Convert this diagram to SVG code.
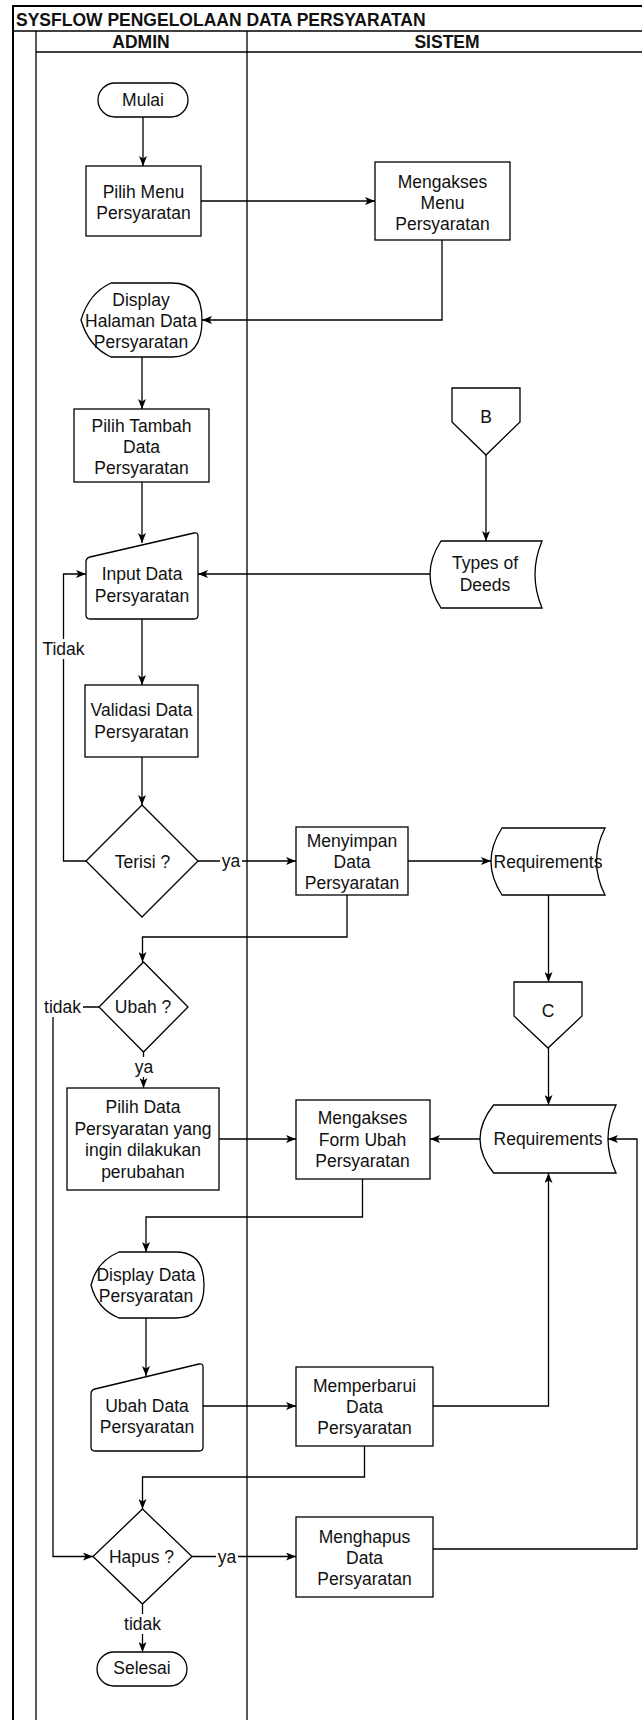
<svg xmlns="http://www.w3.org/2000/svg" width="642" height="1720" viewBox="0 0 642 1720">
  <defs>
    <marker id="arrow" viewBox="0 0 10 8" refX="10" refY="4" markerWidth="10" markerHeight="8" markerUnits="userSpaceOnUse" orient="auto">
      <path d="M0,0 L10,4 L0,8 L2.5,4 Z" fill="#000"/>
    </marker>
    <style>
      .shape{fill:#fff;stroke:#000;stroke-width:1.3}
      .pool{fill:none;stroke:#000;stroke-width:1.3}
      .pool-edge{fill:none;stroke:#000;stroke-width:2}
      .edge{fill:none;stroke:#000;stroke-width:1.3;marker-end:url(#arrow)}
      .lbl-bg{fill:#fff}
      text{font-family:"Liberation Sans",Arial,Helvetica,sans-serif;font-size:17.5px;fill:#111;text-anchor:middle}
      .title{font-weight:bold;text-anchor:start}
      .hdr{font-weight:bold}
    </style>
  </defs>

  <rect width="642" height="1720" fill="#fff"/>

  <!-- pool and lanes -->
  <g id="pool">
    <line class="pool-edge" x1="13" y1="6" x2="642" y2="6"/>
    <line class="pool-edge" x1="13" y1="5" x2="13" y2="1720"/>
    <line class="pool" x1="13" y1="31" x2="642" y2="31"/>
    <line class="pool" x1="36" y1="31" x2="36" y2="1720"/>
    <line class="pool" x1="36" y1="52" x2="642" y2="52"/>
    <line class="pool" x1="247" y1="31" x2="247" y2="1720"/>
    <text class="title" x="16" y="26">SYSFLOW PENGELOLAAN DATA PERSYARATAN</text>
    <text class="hdr" x="141" y="48">ADMIN</text>
    <text class="hdr" x="447" y="48">SISTEM</text>
  </g>

  <!-- connectors -->
  <g id="connectors">
    <path class="edge" d="M143,117 L143,166"/>
    <path class="edge" d="M201,201 L375,201"/>
    <path class="edge" d="M442,240 L442,320 L202,320"/>
    <path class="edge" d="M142,357 L142,409"/>
    <path class="edge" d="M142,482 L142,543"/>
    <path class="edge" d="M486,455 L486,541"/>
    <path class="edge" d="M430,574 L198,574"/>
    <path class="edge" d="M142,619 L142,685"/>
    <path class="edge" d="M142,757 L142,805"/>
    <path class="edge" d="M86,861 L63.5,861 L63.5,574 L86,574"/>
    <path class="edge" d="M198,861 L296,861"/>
    <path class="edge" d="M408,861 L491,861"/>
    <path class="edge" d="M347,895 L347,937 L142.5,937 L142.5,962"/>
    <path class="edge" d="M548.5,895 L548.5,982"/>
    <path class="edge" d="M548.5,1048 L548.5,1105"/>
    <path class="edge" d="M143.5,1052 L143.5,1088"/>
    <path class="edge" d="M99,1007 L53,1007 L53,1556.5 L93,1556.5"/>
    <path class="edge" d="M219,1139 L296,1139"/>
    <path class="edge" d="M480,1139 L430,1139"/>
    <path class="edge" d="M362.5,1179 L362.5,1217 L146,1217 L146,1252"/>
    <path class="edge" d="M146,1318 L146,1376"/>
    <path class="edge" d="M203,1406 L296,1406"/>
    <path class="edge" d="M433,1406 L548.5,1406 L548.5,1173"/>
    <path class="edge" d="M364.5,1446 L364.5,1477 L142.5,1477 L142.5,1509"/>
    <path class="edge" d="M192,1556.5 L296,1556.5"/>
    <path class="edge" d="M433,1549 L637,1549 L637,1139 L608,1139"/>
    <path class="edge" d="M142.5,1604 L142.5,1652"/>

    <!-- connector labels -->
    <rect class="lbl-bg" x="41" y="639" width="45" height="20"/>
    <text x="63.5" y="655">Tidak</text>
    <rect class="lbl-bg" x="220" y="851" width="22" height="20"/>
    <text x="231" y="867">ya</text>
    <rect class="lbl-bg" x="42" y="997" width="41" height="20"/>
    <text x="62.5" y="1013">tidak</text>
    <rect class="lbl-bg" x="133" y="1057" width="22" height="20"/>
    <text x="144" y="1073">ya</text>
    <rect class="lbl-bg" x="216" y="1547" width="22" height="20"/>
    <text x="227" y="1563">ya</text>
    <rect class="lbl-bg" x="122" y="1614" width="41" height="20"/>
    <text x="142.5" y="1630">tidak</text>
  </g>

  <!-- nodes -->
  <g id="mulai">
    <rect class="shape" x="98" y="83" width="90" height="34" rx="17"/>
    <text x="143" y="106">Mulai</text>
  </g>
  <g id="pilih-menu">
    <rect class="shape" x="86" y="166" width="115" height="70"/>
    <text x="143.5" y="197.5">Pilih Menu</text>
    <text x="143.5" y="218.5">Persyaratan</text>
  </g>
  <g id="mengakses-menu">
    <rect class="shape" x="375" y="162" width="135" height="78"/>
    <text x="442.5" y="187.5">Mengakses</text>
    <text x="442.5" y="208.5">Menu</text>
    <text x="442.5" y="229.5">Persyaratan</text>
  </g>
  <g id="display-halaman">
    <path class="shape" d="M81,320 Q89,293 111,283 L172,283 Q202,283 202,320 Q202,357 172,357 L111,357 Q89,347 81,320 Z"/>
    <text x="141" y="306">Display</text>
    <text x="141" y="327">Halaman Data</text>
    <text x="141" y="348">Persyaratan</text>
  </g>
  <g id="pilih-tambah">
    <rect class="shape" x="74" y="409" width="135" height="73"/>
    <text x="141.5" y="431.5">Pilih Tambah</text>
    <text x="141.5" y="452.5">Data</text>
    <text x="141.5" y="473.5">Persyaratan</text>
  </g>
  <g id="input-data">
    <path class="shape" d="M86,562 L86,615 Q86,619 90,619 L194,619 Q198,619 198,615 L198,536 Q198,532 194,533 L90,557 Q86,558 86,562 Z"/>
    <text x="142" y="580">Input Data</text>
    <text x="142" y="602">Persyaratan</text>
  </g>
  <g id="connector-b">
    <path class="shape" d="M452,388 L520,388 L520,422 L486,455 L452,422 Z"/>
    <text x="486" y="423">B</text>
  </g>
  <g id="types-of-deeds">
    <path class="shape" d="M441,541 L542,541 Q528,574.5 542,608 L441,608 Q419,574.5 441,541 Z"/>
    <text x="485" y="569">Types of</text>
    <text x="485" y="591">Deeds</text>
  </g>
  <g id="validasi">
    <rect class="shape" x="85" y="685" width="113" height="72"/>
    <text x="141.5" y="716">Validasi Data</text>
    <text x="141.5" y="737.5">Persyaratan</text>
  </g>
  <g id="terisi">
    <path class="shape" d="M142,805 L198,861 L142,917 L86,861 Z"/>
    <text x="142.5" y="867.5">Terisi ?</text>
  </g>
  <g id="menyimpan">
    <rect class="shape" x="296" y="827" width="112" height="68"/>
    <text x="352" y="847">Menyimpan</text>
    <text x="352" y="868">Data</text>
    <text x="352" y="889">Persyaratan</text>
  </g>
  <g id="requirements-1">
    <path class="shape" d="M502,828 L605,828 Q588,861.5 605,895 L502,895 Q480,861.5 502,828 Z"/>
    <text x="548" y="867.5">Requirements</text>
  </g>
  <g id="connector-c">
    <path class="shape" d="M514,982 L582,982 L582,1016 L548,1048 L514,1016 Z"/>
    <text x="548" y="1017">C</text>
  </g>
  <g id="ubah">
    <path class="shape" d="M143.5,962 L188,1007 L143.5,1052 L99,1007 Z"/>
    <text x="143" y="1013">Ubah ?</text>
  </g>
  <g id="pilih-data">
    <rect class="shape" x="67" y="1088" width="152" height="102"/>
    <text x="143" y="1113.25">Pilih Data</text>
    <text x="143" y="1134.75">Persyaratan yang</text>
    <text x="143" y="1156.25">ingin dilakukan</text>
    <text x="143" y="1177.75">perubahan</text>
  </g>
  <g id="mengakses-form">
    <rect class="shape" x="296" y="1100" width="134" height="79"/>
    <text x="362.5" y="1124">Mengakses</text>
    <text x="362.5" y="1145.5">Form Ubah</text>
    <text x="362.5" y="1167">Persyaratan</text>
  </g>
  <g id="requirements-2">
    <path class="shape" d="M493.6,1105 L616,1105 Q600,1139 616,1173 L493.6,1173 Q466.4,1139 493.6,1105 Z"/>
    <text x="548" y="1145">Requirements</text>
  </g>
  <g id="display-data">
    <path class="shape" d="M91,1285 Q97,1261 119,1252 L176,1252 Q204,1252 204,1285 Q204,1318 176,1318 L119,1318 Q97,1309 91,1285 Z"/>
    <text x="146" y="1280.5">Display Data</text>
    <text x="146" y="1301.5">Persyaratan</text>
  </g>
  <g id="ubah-data">
    <path class="shape" d="M91,1394 L91,1447 Q91,1451 95,1451 L199,1451 Q203,1451 203,1447 L203,1367 Q203,1363 199,1364 L95,1389 Q91,1390 91,1394 Z"/>
    <text x="147" y="1412">Ubah Data</text>
    <text x="147" y="1433">Persyaratan</text>
  </g>
  <g id="memperbarui">
    <rect class="shape" x="296" y="1367" width="137" height="79"/>
    <text x="364.5" y="1391.5">Memperbarui</text>
    <text x="364.5" y="1412.5">Data</text>
    <text x="364.5" y="1433.5">Persyaratan</text>
  </g>
  <g id="hapus">
    <path class="shape" d="M142.5,1509 L192,1556.5 L142.5,1604 L93,1556.5 Z"/>
    <text x="141.5" y="1562.5">Hapus ?</text>
  </g>
  <g id="menghapus">
    <rect class="shape" x="296" y="1517" width="137" height="80"/>
    <text x="364.5" y="1543">Menghapus</text>
    <text x="364.5" y="1564">Data</text>
    <text x="364.5" y="1585">Persyaratan</text>
  </g>
  <g id="selesai">
    <rect class="shape" x="97" y="1652" width="90" height="34" rx="17"/>
    <text x="142" y="1674">Selesai</text>
  </g>
</svg>
